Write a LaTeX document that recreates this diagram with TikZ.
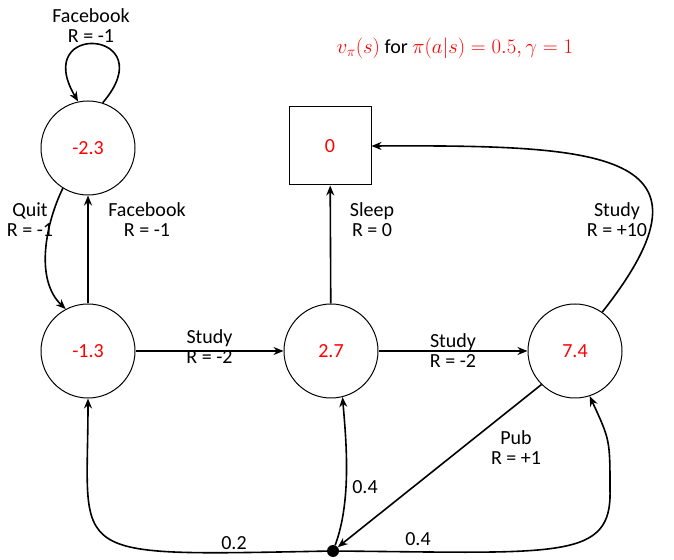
\documentclass[tikz,border=0pt]{standalone}
\usepackage{fontspec}
\setmainfont{Carlito}
\usetikzlibrary{arrows.meta}

\begin{document}
\begin{tikzpicture}
		[x=1pt,y=1pt,
		font=\fontsize{20}{20}\selectfont,
		>={Stealth[length=10pt,width=8pt]},
		st/.style= {circle,draw=black,line width=1pt,minimum size=94pt,inner sep=0pt,text=red},
		sq/.style= {rectangle,draw=black,line width=1pt,minimum width=82pt,minimum height=78pt,text=red},
		dt/.style= {circle,fill=black,minimum size=12pt,inner sep=0pt},
		lb/.style= {align=center,inner sep=1pt},
		ar/.style= {line width=1.6pt}]

		\useasboundingbox (0,0) rectangle (674,559);

		\node (ttl) at (455,511) {\textcolor{red}{$v_\pi(s)$} for \textcolor{red}{$\pi(a|s) = 0.5, \gamma = 1$}};

		\node[st] (fb) at (88,411) {-2.3};

		\node[st] (cl) at (88,208) {-1.3}
			edge [ar,->]	(fb)
		;

		\node[sq] (sl) at (330,413) {0};

		\node[st] (c2) at (331,208) {2.7}
			edge [ar,->]	(sl)
			edge [ar,<-] node[lb,yshift=4pt] {Study\\R = -2} (cl)
		;

		\node[st] (c3) at (575,208) {7.4}
			edge [ar,<-] node[lb] {Study\\R = -2} (c2)
		;

		\node[dt] (dot) at (333,8) {};
		\coordinate (bnd) at (610,69);

		% curved connectors
		\draw[ar,->] (fb.72) .. controls (165,529) and (30,539) .. (fb.102);
		\draw[ar,->] (fb.238) .. controls (45,334) and (35,279) .. (cl.118);
		\draw[ar,->] (c3.55) .. controls (730,409) and (600,414) .. (sl.east);
		\draw[ar,->] (c3.225) -- (dot);
		\draw[ar,->] (dot) .. controls (60,3) and (88,-1) .. (cl.south);
		\draw[ar,->] (dot) .. controls (352,59) and (346,120) .. (c2.-76);
		\draw[ar,->] (dot) .. controls (560,6) and (612,-1) .. (bnd) .. controls (610,119) .. (c3.-72);

		% labels
		\node[lb] (lfb) at (91,533) {Facebook\\R = -1};
		\node[lb] (lqt) at (30,339) {Quit\\R = -1};
		\node[lb] (lfc) at (147,339) {Facebook\\R = -1};
		\node[lb] (lsl) at (372,339) {Sleep\\R = 0};
		\node[lb] (lst) at (617,339) {Study\\R = +10};
		\node[lb] (lpb) at (516,111) {Pub\\R = +1};
		\node[lb] (lpa) at (234,16) {0.2};
		\node[lb] (lpb) at (365,72) {0.4};
		\node[lb] (lpc) at (418,20) {0.4};

	\end{tikzpicture}
\end{document}
